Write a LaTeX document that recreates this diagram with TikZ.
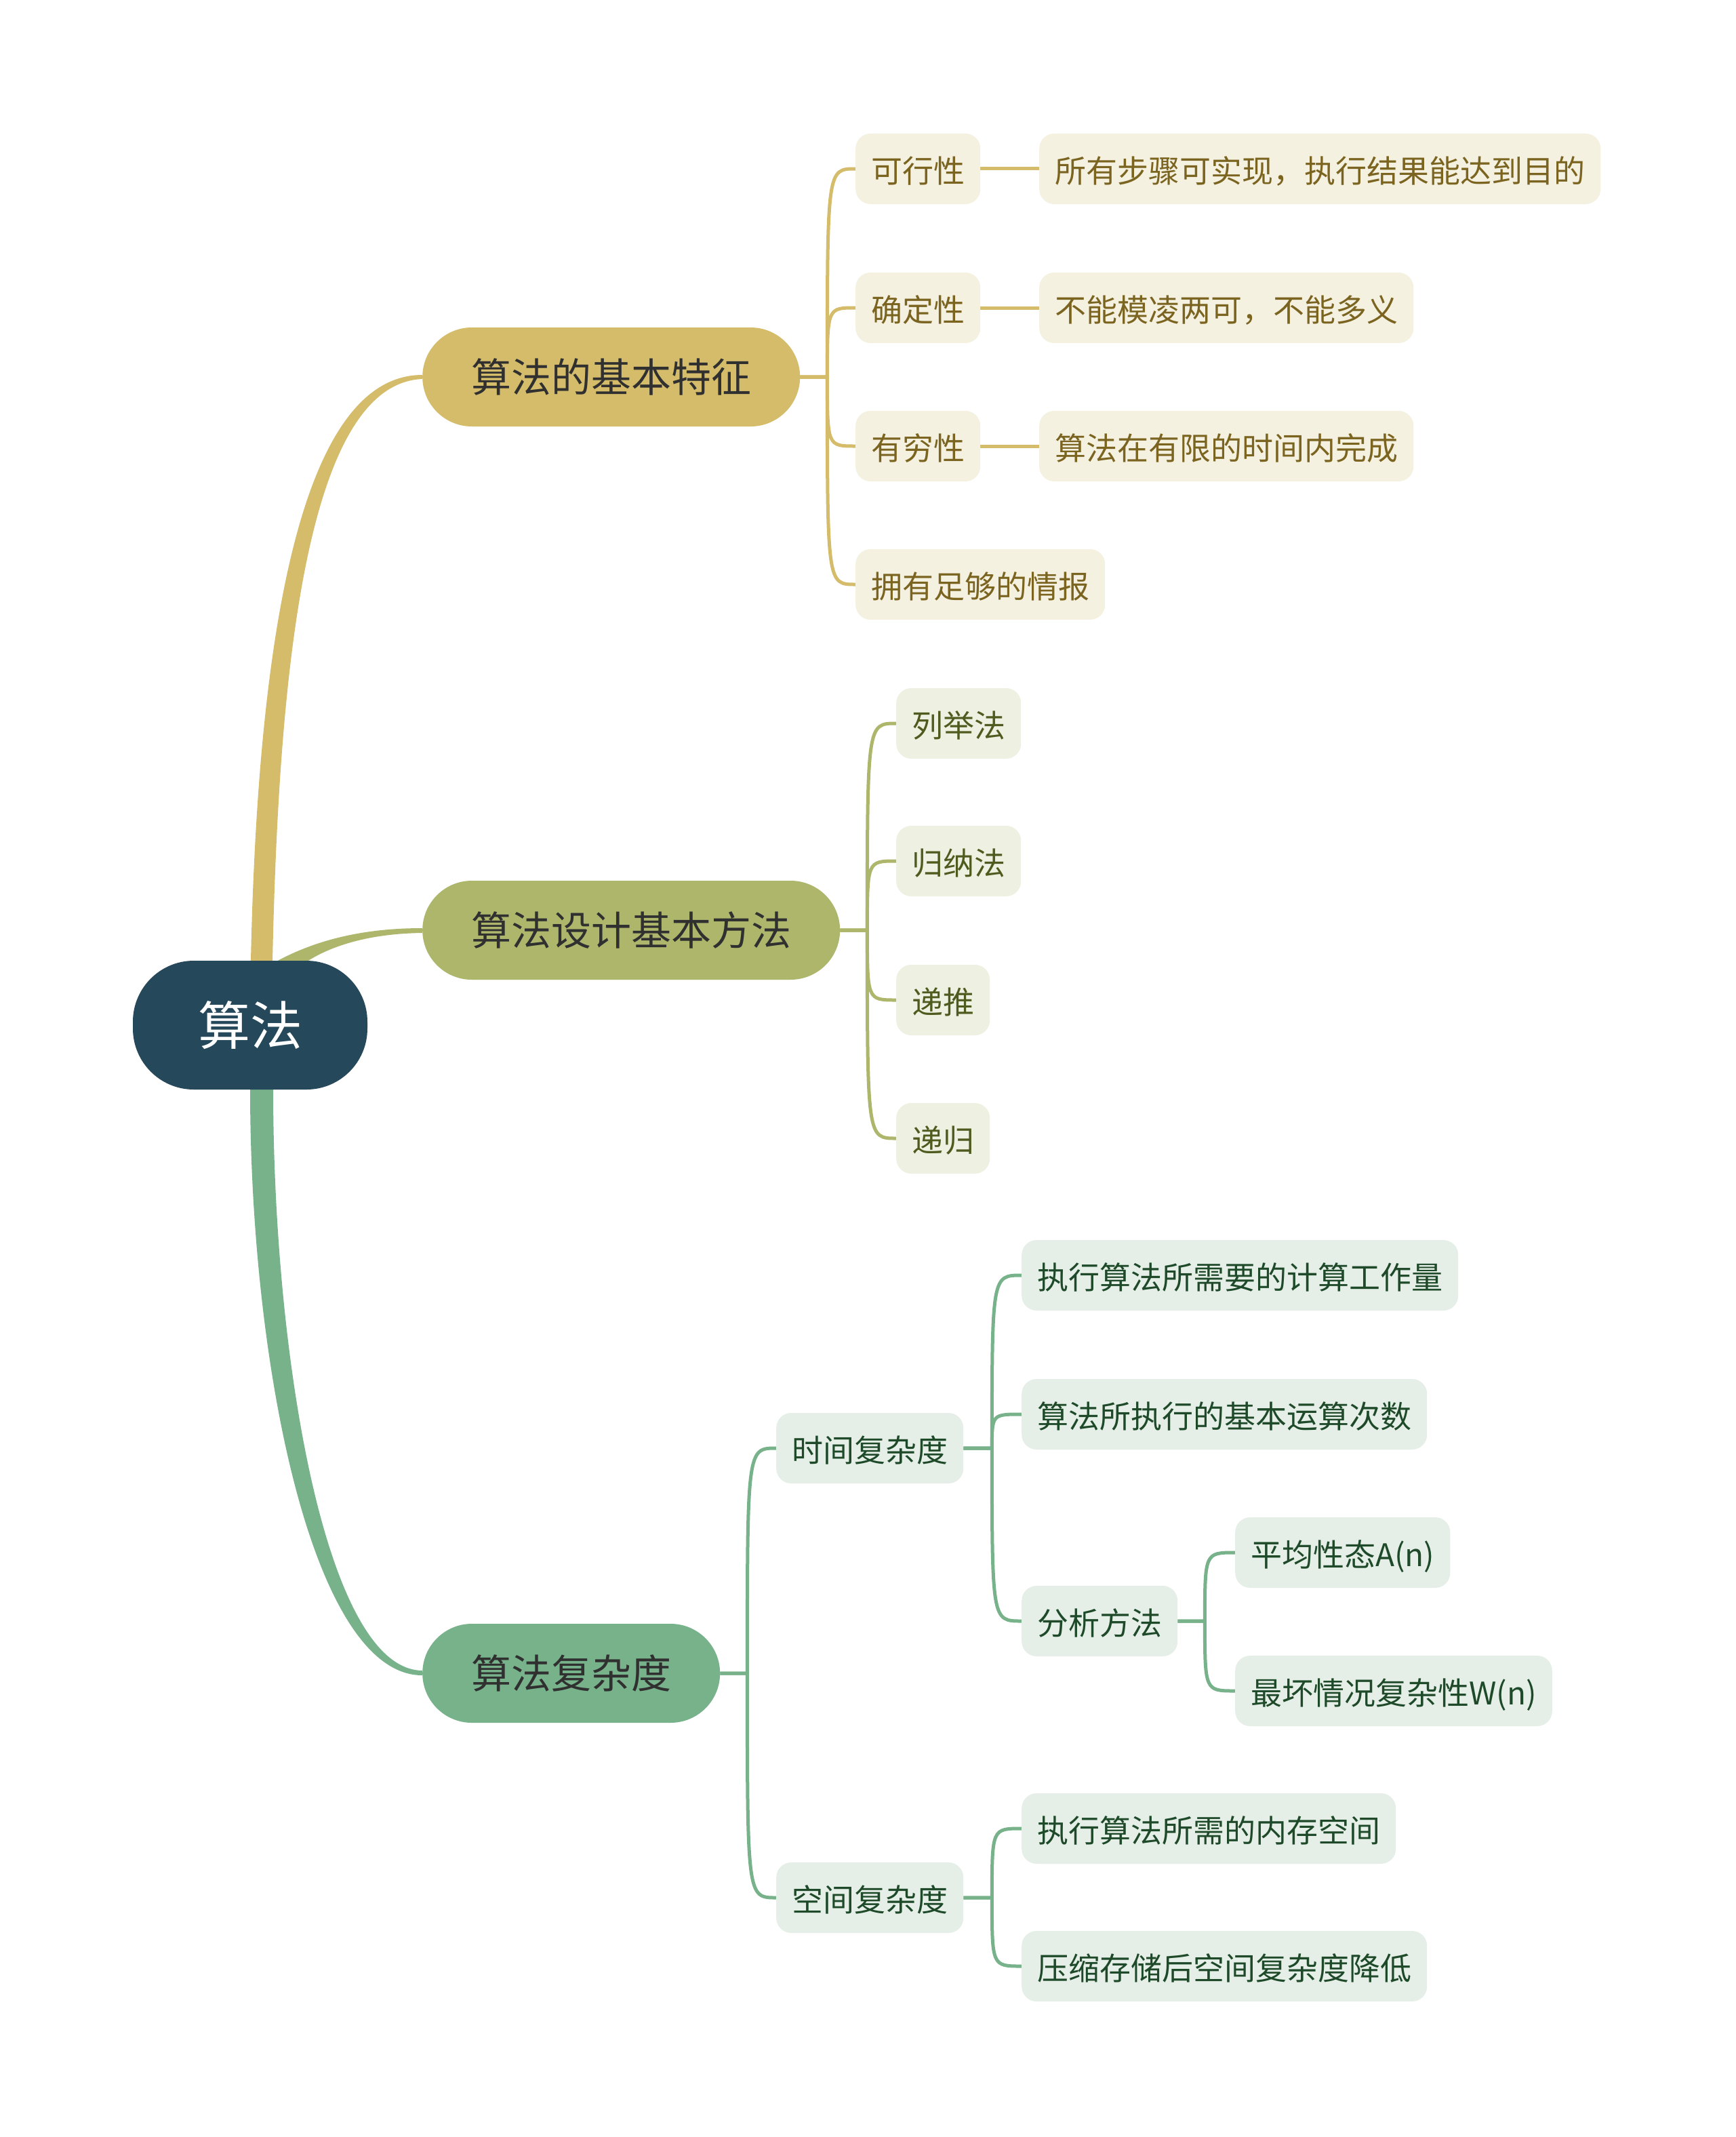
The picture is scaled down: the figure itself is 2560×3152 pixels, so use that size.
\documentclass[tikz,border=0pt]{standalone}
\usepackage{fontspec}
\setmainfont{Noto Sans CJK SC}
\usetikzlibrary{calc}
\definecolor{cRoot}{HTML}{25485A}
\definecolor{cGold}{HTML}{D4BC6A}
\definecolor{cOlive}{HTML}{AEB66C}
\definecolor{cGreen}{HTML}{77B28A}
\definecolor{fGold}{HTML}{F5F1E0}
\definecolor{tGold}{HTML}{7A6420}
\definecolor{fOlive}{HTML}{EEF0E1}
\definecolor{tOlive}{HTML}{4E5A1E}
\definecolor{fGreen}{HTML}{E5EFE7}
\definecolor{tGreen}{HTML}{1E4A2A}
\definecolor{tDark}{HTML}{303030}
\pgfdeclarelayer{bg}
\pgfsetlayers{bg,main}
\begin{document}
\begin{tikzpicture}[x=1pt,y=-1pt,
  rootbox/.style={fill=cRoot, text=white, rounded corners=90pt, minimum width=346pt, minimum height=190pt, inner sep=0pt, font=\fontsize{77pt}{80pt}\selectfont, text height=63.9pt, text depth=5.4pt},
  mainbox/.style={rounded corners=73pt, minimum height=146pt, inner xsep=72pt, inner ysep=0pt, anchor=west, text=tDark, font=\fontsize{59pt}{62pt}\selectfont, text height=50pt, text depth=4.1pt},
  subbox/.style={rounded corners=22pt, minimum height=104pt, inner xsep=23pt, inner ysep=0pt, anchor=west, font=\fontsize{46pt}{50pt}\selectfont, text height=44pt, text depth=3.2pt},
  goldsub/.style={subbox, fill=fGold, text=tGold},
  olivesub/.style={subbox, fill=fOlive, text=tOlive},
  greensub/.style={subbox, fill=fGreen, text=tGreen},
  goldlink/.style={draw=cGold, line width=5pt},
  olivelink/.style={draw=cOlive, line width=5pt},
  greenlink/.style={draw=cGreen, line width=5pt}
]
\useasboundingbox (0,0) rectangle (2560,3152);

% root and main branches
\node[rootbox] (root) at (369,1512) {算法};
\node[mainbox, fill=cGold] (b1) at (623,556) {算法的基本特征};
\node[mainbox, fill=cOlive] (b2) at (623,1372) {算法设计基本方法};
\node[mainbox, fill=cGreen] (b3) at (623,2468) {算法复杂度};

% branch 1
\node[goldsub] (k11) at (1262,249) {可行性};
\node[goldsub] (k12) at (1262,454) {确定性};
\node[goldsub] (k13) at (1262,658) {有穷性};
\node[goldsub] (k14) at (1262,862) {拥有足够的情报};
\node[goldsub] (d11) at (1533,249) {所有步骤可实现，执行结果能达到目的};
\node[goldsub] (d12) at (1533,454) {不能模凌两可，不能多义};
\node[goldsub] (d13) at (1533,658) {算法在有限的时间内完成};

% branch 2
\node[olivesub] (k21) at (1322,1067) {列举法};
\node[olivesub] (k22) at (1322,1270) {归纳法};
\node[olivesub] (k23) at (1322,1475) {递推};
\node[olivesub] (k24) at (1322,1679) {递归};

% branch 3
\node[greensub] (tc) at (1145,2136) {时间复杂度};
\node[greensub] (sc) at (1145,2799) {空间复杂度};
\node[greensub] (t1) at (1507,1881) {执行算法所需要的计算工作量};
\node[greensub] (t2) at (1507,2086) {算法所执行的基本运算次数};
\node[greensub] (t3) at (1507,2391) {分析方法};
\node[greensub] (a1) at (1822,2290) {平均性态A(n)};
\node[greensub] (a2) at (1822,2494) {最坏情况复杂性W(n)};
\node[greensub] (p1) at (1507,2697) {执行算法所需的内存空间};
\node[greensub] (p2) at (1507,2900) {压缩存储后空间复杂度降低};

\coordinate (s1) at ($(b1.east)+(40,0)$);
\coordinate (s2) at ($(b2.east)+(40,0)$);
\coordinate (s3) at ($(b3.east)+(40,0)$);
\coordinate (st) at ($(tc.east)+(42,0)$);
\coordinate (sa) at ($(t3.east)+(40,0)$);
\coordinate (sp) at ($(sc.east)+(42,0)$);

\begin{pgfonlayer}{bg}
\fill[white] (0,0) rectangle (2560,3152);
% tapered main connectors
\fill[cGold] ($(root.north)+(1,0)$) .. controls ($(root.north)+(10,-417)$) and ($(b1.west)+(-193,-3)$) .. ($(b1.west)+(0,-3)$)
  -- ($(b1.west)+(0,3)$) .. controls ($(b1.west)+(-173,10)$) and ($(root.north)+(42,-417)$) .. ($(root.north)+(33,0)$) -- cycle;
\fill[cOlive] ($(root.north)+(41,0)$) .. controls ($(root.north)+(101,-32)$) and ($(b2.west)+(-83,-3)$) .. ($(b2.west)+(0,-3)$)
  -- ($(b2.west)+(0,4)$) .. controls ($(b2.west)+(-78,5)$) and ($(root.north)+(121,-22)$) .. ($(root.north)+(86,0)$) -- cycle;
\fill[cGreen] ($(root.south)+(0,0)$) .. controls ($(root.south)+(0,403)$) and ($(b3.west)+(-163,3)$) .. ($(b3.west)+(0,3)$)
  -- ($(b3.west)+(0,-4)$) .. controls ($(b3.west)+(-143,-5)$) and ($(root.south)+(34,393)$) .. ($(root.south)+(34,0)$) -- cycle;

% branch 1 links
\foreach \k in {k11,k12,k13,k14}
  \draw[goldlink] (b1.east) -- (s1) .. controls (s1 |- \k.west) .. (\k.west);
\draw[goldlink] (k11.east) -- (d11.west);
\draw[goldlink] (k12.east) -- (d12.west);
\draw[goldlink] (k13.east) -- (d13.west);

% branch 2 links
\foreach \k in {k21,k22,k23,k24}
  \draw[olivelink] (b2.east) -- (s2) .. controls (s2 |- \k.west) .. (\k.west);

% branch 3 links
\foreach \k in {tc,sc}
  \draw[greenlink] (b3.east) -- (s3) .. controls (s3 |- \k.west) .. (\k.west);
\foreach \k in {t1,t2,t3}
  \draw[greenlink] (tc.east) -- (st) .. controls (st |- \k.west) .. (\k.west);
\foreach \k in {a1,a2}
  \draw[greenlink] (t3.east) -- (sa) .. controls (sa |- \k.west) .. (\k.west);
\foreach \k in {p1,p2}
  \draw[greenlink] (sc.east) -- (sp) .. controls (sp |- \k.west) .. (\k.west);
\end{pgfonlayer}
\end{tikzpicture}
\end{document}
